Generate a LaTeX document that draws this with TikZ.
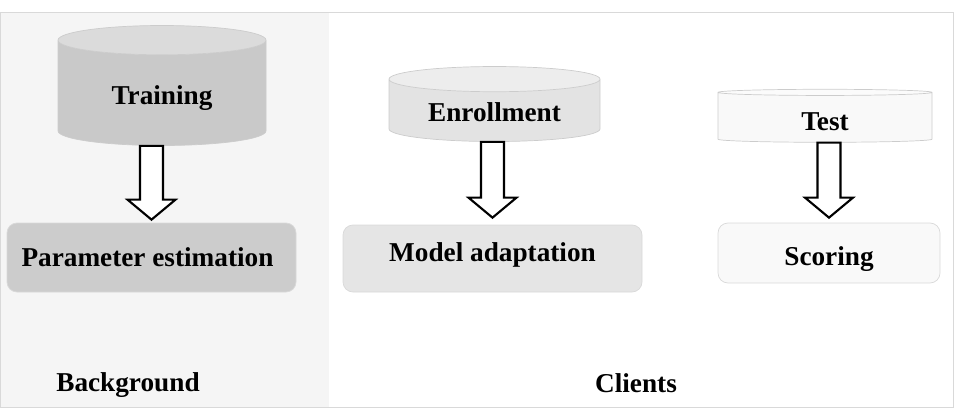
\documentclass[tikz,border=0pt]{standalone}
\usepackage{fontspec}
\setmainfont{Liberation Serif}
\usepackage{tikz}
\usetikzlibrary{shapes.geometric}
\usetikzlibrary{calc}

\begin{document}
\begin{tikzpicture}[
  every node/.style={font=\fontsize{15.5}{18}\selectfont\bfseries},
  store/.style={cylinder,shape border rotate=90,draw=gray!40,
    cylinder uses custom fill,inner sep=0pt},
  stage/.style={rectangle,rounded corners=0.2cm,draw=gray!30},
  blockarrow/.style={draw=black,fill=white,line width=1.2pt,line join=miter,
    to path={let \p1=(\tikztostart),\p2=(\tikztotarget) in
      (\x1-0.23cm,\y1) -- (\x1+0.23cm,\y1) -- (\x2+0.23cm,\y2+0.4cm)
      -- (\x2+0.48cm,\y2+0.4cm) -- (\x2,\y2) -- (\x2-0.48cm,\y2+0.4cm)
      -- (\x2-0.23cm,\y2+0.4cm) -- cycle}}]
\useasboundingbox (0,0) rectangle (19.26,-8.2);
% panels
\fill[gray!8] (0,-0.24) rectangle (6.58,-8.14);
\draw[gray!30] (0,-0.24) rectangle (19.06,-8.14);

% data stores
\node[store,aspect=0.29,minimum width=4.16cm,minimum height=2.4cm,
  cylinder body fill=gray!42,cylinder end fill=gray!28] (train) at (3.24,-1.86)
  {\raisebox{-0.1cm}[\height][\depth]{Training}};
\node[store,aspect=0.19,minimum width=4.22cm,minimum height=1.5cm,
  cylinder body fill=gray!22,cylinder end fill=gray!14] (enrol) at (9.89,-2.21)
  {\raisebox{-0.04cm}[\height][\depth]{Enrollment}};
\node[store,aspect=0.13,minimum width=4.28cm,minimum height=1.06cm,
  cylinder body fill=gray!5,cylinder end fill=gray!3] (test) at (16.5,-2.35)
  {\raisebox{-0.09cm}[\height][\depth]{Test}};

% stages
\node[stage,fill=gray!40,minimum width=5.78cm,minimum height=1.38cm] (param) at (3.03,-5.15)
  {\kern-0.16cm Parameter estimation};
\node[stage,fill=gray!20,minimum width=5.98cm,minimum height=1.34cm] (adapt) at (9.85,-5.17)
  {\raisebox{0.08cm}[\height][\depth]{Model adaptation}};
\node[stage,fill=gray!5,minimum width=4.44cm,minimum height=1.2cm] (score) at (16.58,-5.06)
  {\raisebox{-0.12cm}[\height][\depth]{Scoring}};

% arrows
\draw[blockarrow] (train.south -| param.north) to ([yshift=0.06cm]param.north);
\draw[blockarrow] (enrol.south -| adapt.north) to ([yshift=0.14cm]adapt.north);
\draw[blockarrow] (test.south -| score.north) to ([yshift=0.1cm]score.north);

% labels
\node (bg) at (2.56,-7.7) {Background};
\node (cl) at (12.72,-7.66) {Clients};
\end{tikzpicture}
\end{document}
